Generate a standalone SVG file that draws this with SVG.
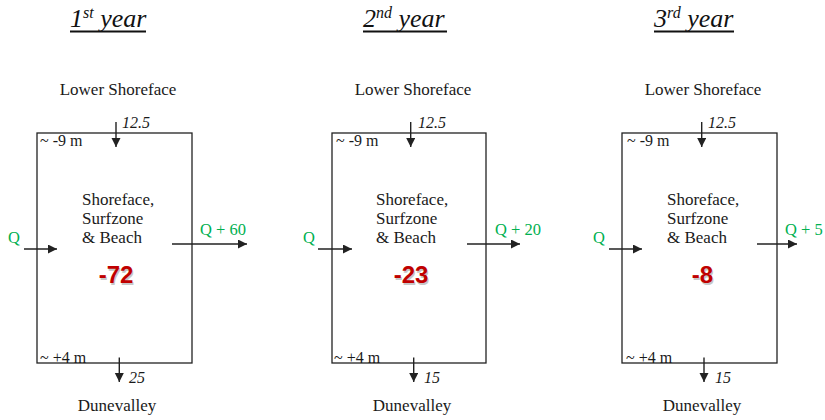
<svg xmlns="http://www.w3.org/2000/svg" width="825" height="420" viewBox="0 0 825 420">
<style>
.t{fill:#1a1a1a;font-size:17px}
.it{font-style:italic}
.sm{font-size:16px}
.title{font-style:italic;font-size:26px;fill:#111}
.g{fill:#00b050;font-size:16.5px}
.box{fill:none;stroke:#222;stroke-width:1.3}
.ln{stroke:#222;stroke-width:1.4;fill:none;marker-end:url(#ah)}
.ul{stroke:#111;stroke-width:2}
.num{font-weight:bold;font-size:24px;fill:#c00000;text-anchor:middle}
.sh{font-weight:bold;font-size:24px;fill:#b0b0b0;text-anchor:middle;opacity:0.7}
.m{text-anchor:middle}
</style>
<defs>
<marker id="ah" markerWidth="10" markerHeight="10" refX="9" refY="4.5" orient="auto" markerUnits="userSpaceOnUse">
<path d="M0,0 L9,4.5 L0,9 z" fill="#222"/>
</marker>
</defs>

<g id="titles" font-family="Liberation Serif, DejaVu Serif, serif">
<text class="title" x="70" y="27">1<tspan font-size="16" dy="-9">st</tspan><tspan dy="9"> year</tspan></text>
<line class="ul" x1="70" y1="31.5" x2="146" y2="31.5"/>
<text class="title" x="363" y="27">2<tspan font-size="16" dy="-9">nd</tspan><tspan dy="9"> year</tspan></text>
<line class="ul" x1="363" y1="31.5" x2="447" y2="31.5"/>
<text class="title" x="654" y="27">3<tspan font-size="16" dy="-9">rd</tspan><tspan dy="9"> year</tspan></text>
<line class="ul" x1="654" y1="31.5" x2="734" y2="31.5"/>
</g>

<g id="panel1" font-family="Liberation Serif, DejaVu Serif, serif">
<rect class="box" x="37" y="133" width="155" height="230"/>
<text class="t m" x="118" y="95">Lower Shoreface</text>
<text class="t it sm" x="122" y="128">12.5</text>
<text class="t sm" x="40" y="146">~ -9 m</text>
<text class="t sm" x="40" y="363">~ +4 m</text>
<text class="t it sm" x="129" y="383">25</text>
<text class="t m" x="117" y="411">Dunevalley</text>
<text class="g" x="8" y="243">Q</text>
<text class="t" x="82" y="205">Shoreface,</text>
<text class="t" x="82" y="224">Surfzone</text>
<text class="t" x="82" y="243">&amp; Beach</text>
<text class="g" x="200" y="235">Q + 60</text>
<text class="sh" font-family="Liberation Sans, Arial, sans-serif" x="117" y="284.5">-72</text>
<text class="num" font-family="Liberation Sans, Arial, sans-serif" x="116" y="283">-72</text>
</g>

<g id="panel2" font-family="Liberation Serif, DejaVu Serif, serif">
<rect class="box" x="332" y="133" width="154" height="230"/>
<text class="t m" x="413" y="95">Lower Shoreface</text>
<text class="t it sm" x="418" y="128">12.5</text>
<text class="t sm" x="336" y="146">~ -9 m</text>
<text class="t sm" x="334" y="363">~ +4 m</text>
<text class="t it sm" x="424" y="383">15</text>
<text class="t m" x="412" y="411">Dunevalley</text>
<text class="g" x="303" y="243">Q</text>
<text class="t" x="376" y="205">Shoreface,</text>
<text class="t" x="376" y="224">Surfzone</text>
<text class="t" x="376" y="243">&amp; Beach</text>
<text class="g" x="495" y="235">Q + 20</text>
<text class="sh" font-family="Liberation Sans, Arial, sans-serif" x="412" y="284.5">-23</text>
<text class="num" font-family="Liberation Sans, Arial, sans-serif" x="411" y="283">-23</text>
</g>

<g id="panel3" font-family="Liberation Serif, DejaVu Serif, serif">
<rect class="box" x="622" y="133" width="155" height="230"/>
<text class="t m" x="703" y="95">Lower Shoreface</text>
<text class="t it sm" x="708" y="128">12.5</text>
<text class="t sm" x="627" y="146">~ -9 m</text>
<text class="t sm" x="626" y="363">~ +4 m</text>
<text class="t it sm" x="715" y="383">15</text>
<text class="t m" x="702" y="411">Dunevalley</text>
<text class="g" x="593" y="243">Q</text>
<text class="t" x="667" y="205">Shoreface,</text>
<text class="t" x="667" y="224">Surfzone</text>
<text class="t" x="667" y="243">&amp; Beach</text>
<text class="g" x="785" y="235">Q + 5</text>
<text class="sh" font-family="Liberation Sans, Arial, sans-serif" x="703.5" y="284.5">-8</text>
<text class="num" font-family="Liberation Sans, Arial, sans-serif" x="702.5" y="283">-8</text>
</g>

<g id="connectors">
<line class="ln" x1="116" y1="122" x2="116" y2="147"/>
<line class="ln" x1="119.3" y1="357.5" x2="119.3" y2="382"/>
<line class="ln" x1="24" y1="249" x2="57" y2="249"/>
<line class="ln" x1="172" y1="244" x2="247" y2="244"/>

<line class="ln" x1="410.7" y1="122" x2="410.7" y2="147"/>
<line class="ln" x1="413.7" y1="357.5" x2="413.7" y2="382"/>
<line class="ln" x1="318" y1="249" x2="352" y2="249"/>
<line class="ln" x1="467" y1="244" x2="520" y2="244"/>

<line class="ln" x1="701.7" y1="122" x2="701.7" y2="147"/>
<line class="ln" x1="704" y1="357.5" x2="704" y2="382"/>
<line class="ln" x1="609" y1="249" x2="642" y2="249"/>
<line class="ln" x1="757" y1="244" x2="797" y2="244"/>
</g>
</svg>
